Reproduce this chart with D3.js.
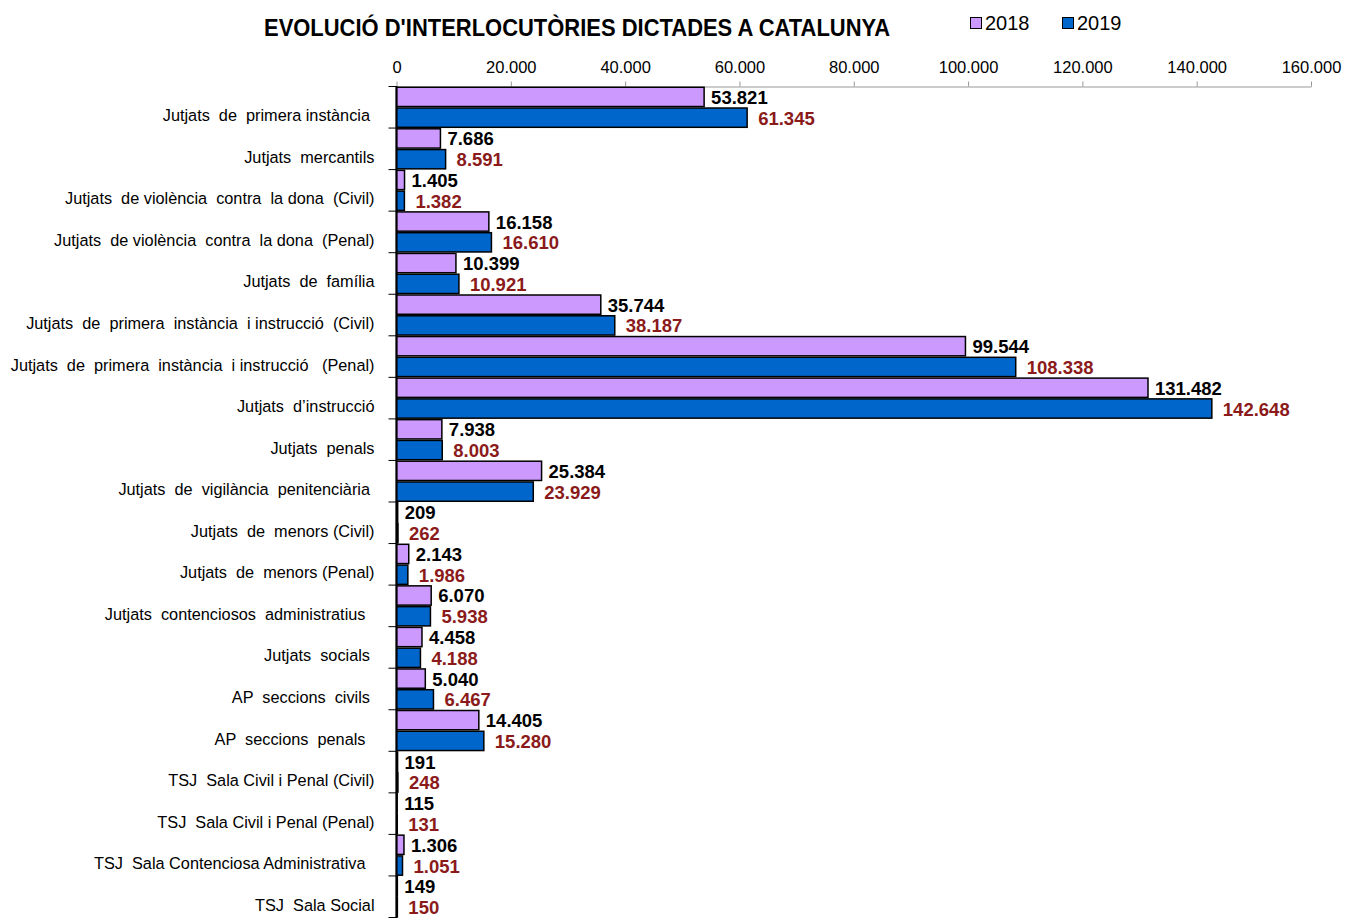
<!DOCTYPE html>
<html><head><meta charset="utf-8">
<script src="https://cdn.jsdelivr.net/npm/d3@7"></script>
<style>
body{margin:0;background:#fff;}
svg{font-family:"Liberation Sans",Arial,sans-serif;}
text{white-space:pre;}
</style></head>
<body><svg id="c" width="1357" height="918"></svg>
<script>
const categories = [
"Jutjats  de  primera instància ",
"Jutjats  mercantils",
"Jutjats  de violència  contra  la dona  (Civil)",
"Jutjats  de violència  contra  la dona  (Penal)",
"Jutjats  de  família",
"Jutjats  de  primera  instància  i instrucció  (Civil)",
"Jutjats  de  primera  instància  i instrucció   (Penal)",
"Jutjats  d’instrucció",
"Jutjats  penals",
"Jutjats  de  vigilància  penitenciària ",
"Jutjats  de  menors (Civil)",
"Jutjats  de  menors (Penal)",
"Jutjats  contenciosos  administratius  ",
"Jutjats  socials ",
"AP  seccions  civils ",
"AP  seccions  penals  ",
"TSJ  Sala Civil i Penal (Civil)",
"TSJ  Sala Civil i Penal (Penal)",
"TSJ  Sala Contenciosa Administrativa  ",
"TSJ  Sala Social"
];
const values2018 = [53821,7686,1405,16158,10399,35744,99544,131482,7938,25384,209,2143,6070,4458,5040,14405,191,115,1306,149];
const values2019 = [61345,8591,1382,16610,10921,38187,108338,142648,8003,23929,262,1986,5938,4188,6467,15280,248,131,1051,150];
const seriesNames = ["2018","2019"];
const xTicks = [0,20000,40000,60000,80000,100000,120000,140000,160000];
const title = "EVOLUCIÓ D'INTERLOCUTÒRIES DICTADES A CATALUNYA";

const colors = {"2018":"#CC99FF","2019":"#0066CC"};
const labelColors = {"2018":"#000000","2019":"#8B1A1A"};

const svg = d3.select("#c");
const loc = d3.formatLocale({decimal:",",thousands:".",grouping:[3],currency:["","€"]});
const fmt = loc.format(",d");

const x = d3.scaleLinear().domain([0,160000]).range([396.5,1311]);
const y = d3.scaleBand().domain(categories).range([86.5, 86.5+20*41.55]).padding(0);
const ys = d3.scaleBand().domain(seriesNames).range([0,y.bandwidth()]).padding(0);

// title
svg.append("text").attr("x",264).attr("y",36).attr("font-size",23).attr("font-weight","bold")
  .attr("textLength",626).attr("lengthAdjust","spacingAndGlyphs").text(title);

// legend
const leg = svg.append("g");
[[970,"2018"],[1062,"2019"]].forEach(([lx,s])=>{
  leg.append("rect").attr("x",lx+0.5).attr("y",17.5).attr("width",11).attr("height",11)
    .attr("fill",colors[s]).attr("stroke","#000").attr("stroke-width",1);
  leg.append("text").attr("x",lx+15).attr("y",30).attr("font-size",20).text(s);
});

// top axis
const xAxis = d3.axisTop(x).tickValues(xTicks).tickSize(5).tickSizeOuter(0).tickFormat(fmt);
const gx = svg.append("g").attr("transform","translate(0,86.5)").call(xAxis);
gx.select(".domain").attr("stroke","#999").attr("stroke-width",1);
gx.selectAll(".tick line").attr("stroke","#999");
gx.selectAll(".tick text").attr("font-size",16.5).attr("fill","#000").attr("y",-14)
  .attr("font-family","Liberation Sans, Arial, sans-serif");

// bars
const data = [];
categories.forEach((c,i)=>{
  data.push({c, s:"2018", v:values2018[i]});
  data.push({c, s:"2019", v:values2019[i]});
});
const g = svg.append("g");
g.selectAll("rect").data(data).join("rect")
  .attr("x",x(0)).attr("y",d=>y(d.c)+ys(d.s)+0.75)
  .attr("width",d=>Math.max(0,x(d.v)-x(0))).attr("height",ys.bandwidth()-1.5)
  .attr("fill",d=>colors[d.s]).attr("stroke","#000").attr("stroke-width",1.5);

// value labels
g.selectAll("text.v").data(data).join("text").attr("class","v")
  .attr("x",d=>x(d.v)+(d.s==="2018"?7:11))
  .attr("y",d=>y(d.c)+ys(d.s)+ys.bandwidth()/2+7)
  .attr("font-size",18.5).attr("font-weight","bold")
  .attr("fill",d=>labelColors[d.s]).text(d=>fmt(d.v));

// left axis
const gy = svg.append("g").attr("transform","translate(396.5,0)");
gy.append("line").attr("x1",0).attr("x2",0).attr("y1",86).attr("y2",918).attr("stroke","#000").attr("stroke-width",2);
gy.selectAll("line.t").data(categories.concat(["__end"])).join("line").attr("class","t")
  .attr("x1",-8).attr("x2",0)
  .attr("y1",(d,i)=> i<categories.length ? y(d) : y.range()[1])
  .attr("y2",(d,i)=> i<categories.length ? y(d) : y.range()[1])
  .attr("stroke","#000").attr("stroke-width",1);
gy.selectAll("text.c").data(categories).join("text").attr("class","c")
  .attr("x",-22).attr("y",d=>y(d)+y.bandwidth()/2+14)
  .attr("text-anchor","end").attr("font-size",16.3).text(d=>d);
</script></body></html>
